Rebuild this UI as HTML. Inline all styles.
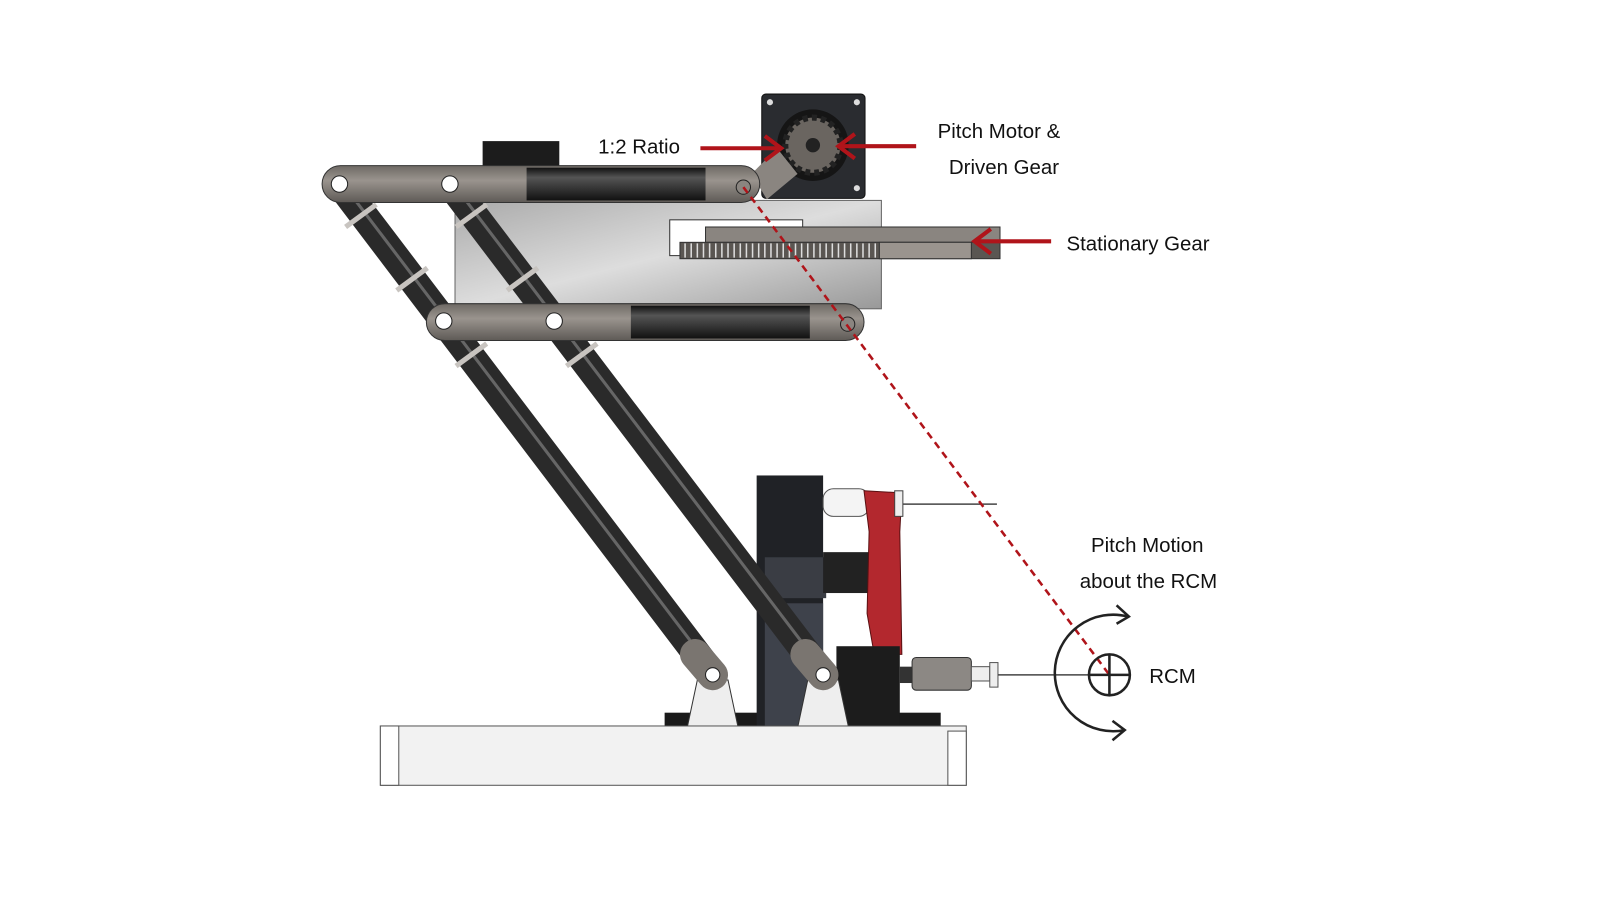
<!DOCTYPE html>
<html><head><meta charset="utf-8"><style>
html,body{margin:0;padding:0;background:#fff;width:1600px;height:900px;overflow:hidden}
svg{display:block}
text{font-family:"Liberation Sans",sans-serif;font-size:20px;fill:#111}
</style></head><body>
<svg width="1600" height="900" viewBox="0 0 1600 900">
<defs>
<linearGradient id="tube" x1="0" y1="0" x2="0" y2="1"><stop offset="0" stop-color="#111"/><stop offset=".3" stop-color="#555"/><stop offset="1" stop-color="#111"/></linearGradient>
<linearGradient id="plate" x1="0" y1="0" x2="1" y2="1"><stop offset="0" stop-color="#aaa"/><stop offset=".5" stop-color="#ddd"/><stop offset="1" stop-color="#999"/></linearGradient>
<linearGradient id="link" x1="0" y1="0" x2="0" y2="1"><stop offset="0" stop-color="#6e6964"/><stop offset=".4" stop-color="#9a948e"/><stop offset="1" stop-color="#5e5a56"/></linearGradient>
</defs>
<g transform="scale(1.0225)">
<rect x="650" y="697" width="270" height="16" fill="#1a1a1a"/>
<rect x="740" y="465" width="65" height="247" fill="#202226"/>
<rect x="748" y="590" width="57" height="122" fill="#3e424b"/>
<rect x="748" y="545" width="60" height="40" fill="#3a3d44"/>
<rect x="805" y="540" width="45" height="40" fill="#222"/>
<rect x="805" y="478" width="45" height="27" rx="10" fill="#f4f4f4" stroke="#555"/>
<polygon points="845,480 882,482 880,520 882,640 855,640 848,600 850,520" fill="#b3282e" stroke="#5a1012"/>
<rect x="875" y="480" width="8" height="25" fill="#eee" stroke="#444"/>
<line x1="883" y1="493" x2="975" y2="493" stroke="#444" stroke-width="1.5"/>
<rect x="818" y="632" width="62" height="80" fill="#1c1c1c"/>
<rect x="880" y="652" width="12" height="16" fill="#333"/>
<rect x="892" y="643" width="58" height="32" rx="4" fill="#8c8884" stroke="#333"/>
<rect x="950" y="652" width="18" height="14" fill="#eee" stroke="#555"/>
<rect x="968" y="648" width="8" height="24" fill="#eee" stroke="#555"/>
<line x1="976" y1="660" x2="1075" y2="660" stroke="#444" stroke-width="1.5"/>
<polygon points="672,712 682,665 712,665 722,712" fill="#eee" stroke="#333"/>
<polygon points="780,712 790,665 820,665 830,712" fill="#eee" stroke="#333"/>
<rect x="372" y="710" width="573" height="58" fill="#f2f2f2" stroke="#555"/>
<rect x="372" y="710" width="18" height="58" fill="#fff" stroke="#555"/>
<rect x="927" y="715" width="18" height="53" fill="#fff" stroke="#555"/>
<rect x="445" y="196" width="417" height="106" fill="url(#plate)" stroke="#666"/>
<rect x="655" y="215" width="130" height="35" fill="#fff" stroke="#333"/>
<rect x="690" y="222" width="288" height="15" fill="#8a8580" stroke="#333"/>
<rect x="665" y="237" width="313" height="16" fill="#5a5652" stroke="#333"/>
<g stroke="#ddd" stroke-width="1.5">
<path d="M670 238V252M676 238V252M682 238V252M688 238V252M694 238V252M700 238V252M706 238V252M712 238V252M718 238V252M724 238V252M730 238V252M736 238V252M742 238V252M748 238V252M754 238V252M760 238V252M766 238V252M772 238V252M778 238V252M784 238V252M790 238V252M796 238V252M802 238V252M808 238V252M814 238V252M820 238V252M826 238V252M832 238V252M838 238V252M844 238V252M850 238V252M856 238V252"/>
</g>
<rect x="860" y="237" width="90" height="16" fill="#9a948e" stroke="#333"/>
<rect x="472" y="138" width="75" height="26" fill="#1c1c1c"/>
<rect x="745" y="92" width="101" height="102" rx="4" fill="#2a2c30" stroke="#111"/>
<circle cx="753" cy="100" r="3" fill="#ddd"/><circle cx="838" cy="100" r="3" fill="#ddd"/><circle cx="838" cy="184" r="3" fill="#ddd"/>
<circle cx="795" cy="142" r="35" fill="#151515"/>
<circle cx="795" cy="142" r="27" fill="#6a6560" stroke="#222" stroke-width="6" stroke-dasharray="5 4"/>
<circle cx="795" cy="142" r="7" fill="#222"/>
<polygon points="735,170 760,145 780,170 750,195" fill="#8a8580"/>
<line x1="340" y1="190" x2="697" y2="660" stroke="#2a2a2a" stroke-width="28" stroke-linecap="round"/>
<line x1="448" y1="190" x2="805" y2="660" stroke="#2a2a2a" stroke-width="28" stroke-linecap="round"/>
<line x1="343" y1="190" x2="699" y2="658" stroke="#666" stroke-width="3"/>
<line x1="451" y1="190" x2="807" y2="658" stroke="#666" stroke-width="3"/>
<g stroke="#c8c4c0" stroke-width="5">
<line x1="338" y1="222" x2="368" y2="200"/><line x1="388" y1="284" x2="418" y2="262"/>
<line x1="446" y1="222" x2="476" y2="200"/><line x1="496" y1="284" x2="526" y2="262"/>
<line x1="446" y1="358" x2="476" y2="336"/><line x1="554" y1="358" x2="584" y2="336"/>
</g>
<line x1="680" y1="640" x2="697" y2="660" stroke="#7a7570" stroke-width="30" stroke-linecap="round"/>
<line x1="788" y1="640" x2="805" y2="660" stroke="#7a7570" stroke-width="30" stroke-linecap="round"/>
<circle cx="697" cy="660" r="7" fill="#fff" stroke="#222"/><circle cx="805" cy="660" r="7" fill="#fff" stroke="#222"/>
<rect x="315" y="162" width="428" height="36" rx="18" fill="url(#link)" stroke="#333"/>
<rect x="515" y="164" width="175" height="32" fill="url(#tube)"/>
<circle cx="332" cy="180" r="8" fill="#fff" stroke="#222"/><circle cx="440" cy="180" r="8" fill="#fff" stroke="#222"/><circle cx="727" cy="183" r="7" fill="#8a8580" stroke="#222"/>
<rect x="417" y="297" width="428" height="36" rx="18" fill="url(#link)" stroke="#333"/>
<rect x="617" y="299" width="175" height="32" fill="url(#tube)"/>
<circle cx="434" cy="314" r="8" fill="#fff" stroke="#222"/><circle cx="542" cy="314" r="8" fill="#fff" stroke="#222"/><circle cx="829" cy="317" r="7" fill="#8a8580" stroke="#222"/>
<line x1="727" y1="183" x2="1085" y2="660" stroke="#b0141a" stroke-width="2.5" stroke-dasharray="7 5"/>
<g stroke="#b0141a" stroke-width="4" fill="none">
<line x1="685" y1="145" x2="762" y2="145"/><polyline points="748,133 764,145 748,157"/>
<line x1="896" y1="143" x2="822" y2="143"/><polyline points="836,131 820,143 836,155"/>
<line x1="1028" y1="236" x2="955" y2="236"/><polyline points="969,224 953,236 969,248"/>
</g>
<g stroke="#222" stroke-width="2.5" fill="none">
<circle cx="1085" cy="660" r="20"/>
<line x1="1065" y1="660" x2="1105" y2="660"/><line x1="1085" y1="640" x2="1085" y2="680"/>
<path d="M1103 603 A57 57 0 1 0 1100 714"/>
<polyline points="1092,592 1104,603 1092,610"/>
<polyline points="1088,705 1100,714 1088,724"/>
</g>
<text x="585" y="150">1:2 Ratio</text>
<text x="917" y="135">Pitch Motor &amp;</text>
<text x="928" y="170">Driven Gear</text>
<text x="1043" y="245">Stationary Gear</text>
<text x="1067" y="540">Pitch Motion</text>
<text x="1056" y="575">about the RCM</text>
<text x="1124" y="668">RCM</text>
</g>
</svg>
</body></html>
